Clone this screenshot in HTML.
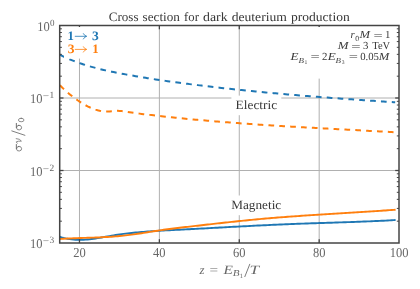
<!DOCTYPE html>
<html><head><meta charset="utf-8"><title>Cross section for dark deuterium production</title>
<style>html,body{margin:0;padding:0;background:#fff;}body{width:420px;height:289px;overflow:hidden;}svg{display:block;will-change:transform;}text{font-family:"Liberation Serif",serif;text-rendering:geometricPrecision;}</style></head><body>
<svg width="420" height="289" viewBox="0 0 420 289">
<rect x="0" y="0" width="420" height="289" fill="#ffffff"/>
<g stroke="#b0b0b0" stroke-width="1" fill="none">
<line x1="79.47" y1="25.5" x2="79.47" y2="243.0"/>
<line x1="159.38" y1="25.5" x2="159.38" y2="243.0"/>
<line x1="239.28" y1="25.5" x2="239.28" y2="243.0"/>
<line x1="319.18" y1="25.5" x2="319.18" y2="243.0"/>
<line x1="59.7" y1="98.00" x2="399.0" y2="98.00"/>
<line x1="59.7" y1="170.50" x2="399.0" y2="170.50"/>
</g>
<clipPath id="c"><rect x="59.7" y="25.5" width="339.3" height="217.5"/></clipPath>
<g clip-path="url(#c)" fill="none" stroke-width="2" stroke-linejoin="round">
<path d="M59.60,54.63 L61.60,55.62 L63.60,56.57 L65.60,57.49 L67.60,58.38 L69.60,59.24 L71.60,60.07 L73.60,60.86 L75.60,61.63 L77.60,62.37 L79.60,63.09 L81.60,63.77 L83.60,64.44 L85.60,65.08 L87.60,65.69 L89.60,66.29 L91.60,66.86 L93.60,67.41 L95.60,67.95 L97.60,68.47 L99.60,68.97 L101.60,69.45 L103.60,69.92 L105.60,70.38 L107.60,70.82 L109.60,71.25 L111.60,71.67 L113.60,72.08 L115.60,72.48 L117.60,72.87 L119.60,73.26 L121.60,73.64 L123.60,74.01 L125.60,74.38 L127.60,74.75 L129.60,75.11 L131.60,75.46 L133.60,75.81 L135.60,76.16 L137.60,76.50 L139.60,76.84 L141.60,77.17 L143.60,77.50 L145.60,77.83 L147.60,78.15 L149.60,78.46 L151.60,78.78 L153.60,79.09 L155.60,79.39 L157.60,79.69 L159.60,79.99 L161.60,80.29 L163.60,80.58 L165.60,80.87 L167.60,81.15 L169.60,81.44 L171.60,81.72 L173.60,81.99 L175.60,82.27 L177.60,82.54 L179.60,82.81 L181.60,83.07 L183.60,83.34 L185.60,83.60 L187.60,83.86 L189.60,84.12 L191.60,84.37 L193.60,84.62 L195.60,84.87 L197.60,85.12 L199.60,85.37 L201.60,85.61 L203.60,85.86 L205.60,86.10 L207.60,86.33 L209.60,86.57 L211.60,86.81 L213.60,87.04 L215.60,87.27 L217.60,87.50 L219.60,87.72 L221.60,87.95 L223.60,88.17 L225.60,88.39 L227.60,88.61 L229.60,88.83 L231.60,89.04 L233.60,89.26 L235.60,89.47 L237.60,89.68 L239.60,89.89 L241.60,90.10 L243.60,90.30 L245.60,90.50 L247.60,90.71 L249.60,90.91 L251.60,91.10 L253.60,91.30 L255.60,91.50 L257.60,91.69 L259.60,91.88 L261.60,92.07 L263.60,92.26 L265.60,92.45 L267.60,92.64 L269.60,92.82 L271.60,93.00 L273.60,93.19 L275.60,93.37 L277.60,93.54 L279.60,93.72 L281.60,93.90 L283.60,94.07 L285.60,94.25 L287.60,94.42 L289.60,94.59 L291.60,94.76 L293.60,94.93 L295.60,95.10 L297.60,95.26 L299.60,95.43 L301.60,95.59 L303.60,95.75 L305.60,95.92 L307.60,96.08 L309.60,96.24 L311.60,96.39 L313.60,96.55 L315.60,96.71 L317.60,96.86 L319.60,97.02 L321.60,97.17 L323.60,97.32 L325.60,97.47 L327.60,97.62 L329.60,97.77 L331.60,97.92 L333.60,98.07 L335.60,98.22 L337.60,98.36 L339.60,98.51 L341.60,98.65 L343.60,98.80 L345.60,98.94 L347.60,99.08 L349.60,99.22 L351.60,99.36 L353.60,99.50 L355.60,99.64 L357.60,99.78 L359.60,99.92 L361.60,100.05 L363.60,100.19 L365.60,100.33 L367.60,100.46 L369.60,100.60 L371.60,100.73 L373.60,100.87 L375.60,101.00 L377.60,101.13 L379.60,101.27 L381.60,101.40 L383.60,101.53 L385.60,101.66 L387.60,101.79 L389.60,101.92 L391.60,102.05 L393.60,102.18 L395.20,102.29" stroke="#1f77b4" stroke-dasharray="5.7,5.17" stroke-dashoffset="0.05"/>
<path d="M59.60,85.04 L61.60,86.98 L63.60,88.86 L65.60,90.69 L67.60,92.45 L69.60,94.15 L71.60,95.79 L73.60,97.36 L75.60,98.86 L77.60,100.29 L79.60,101.64 L81.60,102.93 L83.60,104.13 L85.60,105.26 L87.60,106.31 L89.60,107.27 L91.60,108.15 L93.60,108.95 L95.60,109.65 L97.60,110.27 L99.60,110.78 L101.60,111.17 L103.60,111.43 L105.60,111.55 L107.60,111.52 L109.60,111.38 L111.60,111.18 L113.60,110.98 L115.60,110.84 L117.60,110.81 L119.60,110.91 L121.60,111.11 L123.60,111.38 L125.60,111.68 L127.60,111.99 L129.60,112.29 L131.60,112.57 L133.60,112.85 L135.60,113.11 L137.60,113.38 L139.60,113.63 L141.60,113.89 L143.60,114.14 L145.60,114.38 L147.60,114.63 L149.60,114.87 L151.60,115.11 L153.60,115.34 L155.60,115.58 L157.60,115.80 L159.60,116.03 L161.60,116.25 L163.60,116.48 L165.60,116.69 L167.60,116.91 L169.60,117.12 L171.60,117.33 L173.60,117.54 L175.60,117.74 L177.60,117.95 L179.60,118.15 L181.60,118.34 L183.60,118.54 L185.60,118.73 L187.60,118.92 L189.60,119.11 L191.60,119.30 L193.60,119.48 L195.60,119.66 L197.60,119.84 L199.60,120.02 L201.60,120.20 L203.60,120.37 L205.60,120.54 L207.60,120.72 L209.60,120.88 L211.60,121.05 L213.60,121.22 L215.60,121.38 L217.60,121.54 L219.60,121.71 L221.60,121.87 L223.60,122.02 L225.60,122.18 L227.60,122.34 L229.60,122.49 L231.60,122.64 L233.60,122.79 L235.60,122.94 L237.60,123.09 L239.60,123.24 L241.60,123.39 L243.60,123.53 L245.60,123.68 L247.60,123.82 L249.60,123.96 L251.60,124.10 L253.60,124.24 L255.60,124.37 L257.60,124.51 L259.60,124.64 L261.60,124.78 L263.60,124.91 L265.60,125.04 L267.60,125.17 L269.60,125.30 L271.60,125.43 L273.60,125.55 L275.60,125.68 L277.60,125.80 L279.60,125.93 L281.60,126.05 L283.60,126.17 L285.60,126.29 L287.60,126.41 L289.60,126.53 L291.60,126.64 L293.60,126.76 L295.60,126.87 L297.60,126.99 L299.60,127.10 L301.60,127.21 L303.60,127.32 L305.60,127.43 L307.60,127.54 L309.60,127.65 L311.60,127.76 L313.60,127.87 L315.60,127.97 L317.60,128.08 L319.60,128.18 L321.60,128.29 L323.60,128.40 L325.60,128.50 L327.60,128.61 L329.60,128.71 L331.60,128.82 L333.60,128.92 L335.60,129.03 L337.60,129.13 L339.60,129.24 L341.60,129.34 L343.60,129.45 L345.60,129.56 L347.60,129.67 L349.60,129.77 L351.60,129.88 L353.60,129.99 L355.60,130.10 L357.60,130.22 L359.60,130.33 L361.60,130.44 L363.60,130.55 L365.60,130.67 L367.60,130.78 L369.60,130.89 L371.60,131.01 L373.60,131.12 L375.60,131.23 L377.60,131.34 L379.60,131.45 L381.60,131.55 L383.60,131.66 L385.60,131.76 L387.60,131.86 L389.60,131.96 L391.60,132.05 L393.60,132.14 L395.20,132.21" stroke="#ff7f0e" stroke-dasharray="5.7,5.17" stroke-dashoffset="10.46"/>
<path d="M59.60,236.77 L61.60,237.38 L63.60,237.92 L65.60,238.38 L67.60,238.77 L69.60,239.10 L71.60,239.36 L73.60,239.56 L75.60,239.70 L77.60,239.79 L79.60,239.82 L81.60,239.80 L83.60,239.73 L85.60,239.61 L87.60,239.45 L89.60,239.26 L91.60,239.02 L93.60,238.76 L95.60,238.47 L97.60,238.16 L99.60,237.83 L101.60,237.49 L103.60,237.13 L105.60,236.78 L107.60,236.42 L109.60,236.06 L111.60,235.72 L113.60,235.38 L115.60,235.06 L117.60,234.75 L119.60,234.46 L121.60,234.18 L123.60,233.91 L125.60,233.65 L127.60,233.41 L129.60,233.18 L131.60,232.95 L133.60,232.74 L135.60,232.54 L137.60,232.35 L139.60,232.17 L141.60,231.99 L143.60,231.83 L145.60,231.67 L147.60,231.52 L149.60,231.37 L151.60,231.23 L153.60,231.10 L155.60,230.97 L157.60,230.85 L159.60,230.73 L161.60,230.62 L163.60,230.51 L165.60,230.40 L167.60,230.29 L169.60,230.19 L171.60,230.09 L173.60,229.99 L175.60,229.89 L177.60,229.79 L179.60,229.69 L181.60,229.59 L183.60,229.49 L185.60,229.38 L187.60,229.28 L189.60,229.18 L191.60,229.07 L193.60,228.97 L195.60,228.86 L197.60,228.76 L199.60,228.65 L201.60,228.54 L203.60,228.44 L205.60,228.33 L207.60,228.22 L209.60,228.11 L211.60,228.00 L213.60,227.90 L215.60,227.79 L217.60,227.68 L219.60,227.57 L221.60,227.46 L223.60,227.35 L225.60,227.25 L227.60,227.14 L229.60,227.03 L231.60,226.92 L233.60,226.81 L235.60,226.71 L237.60,226.60 L239.60,226.50 L241.60,226.39 L243.60,226.28 L245.60,226.18 L247.60,226.08 L249.60,225.97 L251.60,225.87 L253.60,225.77 L255.60,225.67 L257.60,225.57 L259.60,225.47 L261.60,225.37 L263.60,225.27 L265.60,225.18 L267.60,225.08 L269.60,224.99 L271.60,224.89 L273.60,224.80 L275.60,224.71 L277.60,224.62 L279.60,224.53 L281.60,224.45 L283.60,224.36 L285.60,224.28 L287.60,224.20 L289.60,224.12 L291.60,224.04 L293.60,223.96 L295.60,223.88 L297.60,223.81 L299.60,223.73 L301.60,223.66 L303.60,223.59 L305.60,223.52 L307.60,223.45 L309.60,223.39 L311.60,223.32 L313.60,223.25 L315.60,223.19 L317.60,223.12 L319.60,223.06 L321.60,223.00 L323.60,222.93 L325.60,222.87 L327.60,222.80 L329.60,222.74 L331.60,222.68 L333.60,222.61 L335.60,222.55 L337.60,222.49 L339.60,222.42 L341.60,222.36 L343.60,222.29 L345.60,222.22 L347.60,222.16 L349.60,222.09 L351.60,222.02 L353.60,221.95 L355.60,221.88 L357.60,221.80 L359.60,221.73 L361.60,221.65 L363.60,221.57 L365.60,221.50 L367.60,221.42 L369.60,221.33 L371.60,221.25 L373.60,221.16 L375.60,221.07 L377.60,220.98 L379.60,220.89 L381.60,220.79 L383.60,220.69 L385.60,220.59 L387.60,220.49 L389.60,220.38 L391.60,220.28 L393.60,220.16 L395.60,220.05" stroke="#1f77b4" stroke-width="1.9"/>
<path d="M59.60,239.03 L61.60,238.89 L63.60,238.76 L65.60,238.65 L67.60,238.54 L69.60,238.44 L71.60,238.35 L73.60,238.27 L75.60,238.19 L77.60,238.11 L79.60,238.04 L81.60,237.97 L83.60,237.91 L85.60,237.85 L87.60,237.78 L89.60,237.72 L91.60,237.65 L93.60,237.58 L95.60,237.51 L97.60,237.43 L99.60,237.35 L101.60,237.27 L103.60,237.17 L105.60,237.07 L107.60,236.96 L109.60,236.84 L111.60,236.71 L113.60,236.57 L115.60,236.41 L117.60,236.24 L119.60,236.06 L121.60,235.86 L123.60,235.65 L125.60,235.42 L127.60,235.18 L129.60,234.93 L131.60,234.66 L133.60,234.38 L135.60,234.10 L137.60,233.80 L139.60,233.50 L141.60,233.19 L143.60,232.88 L145.60,232.57 L147.60,232.25 L149.60,231.93 L151.60,231.62 L153.60,231.30 L155.60,230.99 L157.60,230.69 L159.60,230.39 L161.60,230.09 L163.60,229.81 L165.60,229.53 L167.60,229.26 L169.60,229.00 L171.60,228.74 L173.60,228.49 L175.60,228.24 L177.60,227.99 L179.60,227.75 L181.60,227.51 L183.60,227.28 L185.60,227.05 L187.60,226.82 L189.60,226.59 L191.60,226.36 L193.60,226.14 L195.60,225.91 L197.60,225.69 L199.60,225.46 L201.60,225.23 L203.60,225.01 L205.60,224.78 L207.60,224.56 L209.60,224.33 L211.60,224.11 L213.60,223.88 L215.60,223.66 L217.60,223.43 L219.60,223.21 L221.60,222.99 L223.60,222.77 L225.60,222.55 L227.60,222.33 L229.60,222.12 L231.60,221.90 L233.60,221.69 L235.60,221.48 L237.60,221.27 L239.60,221.06 L241.60,220.85 L243.60,220.65 L245.60,220.45 L247.60,220.25 L249.60,220.05 L251.60,219.85 L253.60,219.66 L255.60,219.47 L257.60,219.28 L259.60,219.10 L261.60,218.92 L263.60,218.74 L265.60,218.56 L267.60,218.39 L269.60,218.22 L271.60,218.05 L273.60,217.89 L275.60,217.72 L277.60,217.56 L279.60,217.41 L281.60,217.25 L283.60,217.10 L285.60,216.94 L287.60,216.80 L289.60,216.65 L291.60,216.50 L293.60,216.36 L295.60,216.22 L297.60,216.08 L299.60,215.94 L301.60,215.80 L303.60,215.66 L305.60,215.53 L307.60,215.39 L309.60,215.26 L311.60,215.13 L313.60,215.00 L315.60,214.87 L317.60,214.75 L319.60,214.62 L321.60,214.49 L323.60,214.37 L325.60,214.24 L327.60,214.12 L329.60,213.99 L331.60,213.87 L333.60,213.75 L335.60,213.62 L337.60,213.50 L339.60,213.38 L341.60,213.26 L343.60,213.13 L345.60,213.01 L347.60,212.89 L349.60,212.77 L351.60,212.64 L353.60,212.52 L355.60,212.39 L357.60,212.27 L359.60,212.15 L361.60,212.02 L363.60,211.89 L365.60,211.77 L367.60,211.64 L369.60,211.51 L371.60,211.38 L373.60,211.25 L375.60,211.11 L377.60,210.98 L379.60,210.85 L381.60,210.71 L383.60,210.57 L385.60,210.43 L387.60,210.29 L389.60,210.15 L391.60,210.00 L393.60,209.86 L395.60,209.71" stroke="#ff7f0e" stroke-width="1.9"/>
</g>
<g stroke="#444444" fill="none">
<line x1="79.47" y1="243.0" x2="79.47" y2="239.2" stroke-width="1.3"/>
<line x1="79.47" y1="25.5" x2="79.47" y2="29.3" stroke-width="1.3"/>
<line x1="159.38" y1="243.0" x2="159.38" y2="239.2" stroke-width="1.3"/>
<line x1="159.38" y1="25.5" x2="159.38" y2="29.3" stroke-width="1.3"/>
<line x1="239.28" y1="243.0" x2="239.28" y2="239.2" stroke-width="1.3"/>
<line x1="239.28" y1="25.5" x2="239.28" y2="29.3" stroke-width="1.3"/>
<line x1="319.18" y1="243.0" x2="319.18" y2="239.2" stroke-width="1.3"/>
<line x1="319.18" y1="25.5" x2="319.18" y2="29.3" stroke-width="1.3"/>
<line x1="59.7" y1="98.00" x2="63.5" y2="98.00" stroke-width="1.3"/>
<line x1="399.0" y1="98.00" x2="395.2" y2="98.00" stroke-width="1.3"/>
<line x1="59.7" y1="170.50" x2="63.5" y2="170.50" stroke-width="1.3"/>
<line x1="399.0" y1="170.50" x2="395.2" y2="170.50" stroke-width="1.3"/>
<line x1="59.7" y1="76.18" x2="61.900000000000006" y2="76.18" stroke-width="1"/>
<line x1="399.0" y1="76.18" x2="396.8" y2="76.18" stroke-width="1"/>
<line x1="59.7" y1="63.41" x2="61.900000000000006" y2="63.41" stroke-width="1"/>
<line x1="399.0" y1="63.41" x2="396.8" y2="63.41" stroke-width="1"/>
<line x1="59.7" y1="54.35" x2="61.900000000000006" y2="54.35" stroke-width="1"/>
<line x1="399.0" y1="54.35" x2="396.8" y2="54.35" stroke-width="1"/>
<line x1="59.7" y1="47.32" x2="61.900000000000006" y2="47.32" stroke-width="1"/>
<line x1="399.0" y1="47.32" x2="396.8" y2="47.32" stroke-width="1"/>
<line x1="59.7" y1="41.58" x2="61.900000000000006" y2="41.58" stroke-width="1"/>
<line x1="399.0" y1="41.58" x2="396.8" y2="41.58" stroke-width="1"/>
<line x1="59.7" y1="36.73" x2="61.900000000000006" y2="36.73" stroke-width="1"/>
<line x1="399.0" y1="36.73" x2="396.8" y2="36.73" stroke-width="1"/>
<line x1="59.7" y1="32.53" x2="61.900000000000006" y2="32.53" stroke-width="1"/>
<line x1="399.0" y1="32.53" x2="396.8" y2="32.53" stroke-width="1"/>
<line x1="59.7" y1="28.82" x2="61.900000000000006" y2="28.82" stroke-width="1"/>
<line x1="399.0" y1="28.82" x2="396.8" y2="28.82" stroke-width="1"/>
<line x1="59.7" y1="148.68" x2="61.900000000000006" y2="148.68" stroke-width="1"/>
<line x1="399.0" y1="148.68" x2="396.8" y2="148.68" stroke-width="1"/>
<line x1="59.7" y1="135.91" x2="61.900000000000006" y2="135.91" stroke-width="1"/>
<line x1="399.0" y1="135.91" x2="396.8" y2="135.91" stroke-width="1"/>
<line x1="59.7" y1="126.85" x2="61.900000000000006" y2="126.85" stroke-width="1"/>
<line x1="399.0" y1="126.85" x2="396.8" y2="126.85" stroke-width="1"/>
<line x1="59.7" y1="119.82" x2="61.900000000000006" y2="119.82" stroke-width="1"/>
<line x1="399.0" y1="119.82" x2="396.8" y2="119.82" stroke-width="1"/>
<line x1="59.7" y1="114.08" x2="61.900000000000006" y2="114.08" stroke-width="1"/>
<line x1="399.0" y1="114.08" x2="396.8" y2="114.08" stroke-width="1"/>
<line x1="59.7" y1="109.23" x2="61.900000000000006" y2="109.23" stroke-width="1"/>
<line x1="399.0" y1="109.23" x2="396.8" y2="109.23" stroke-width="1"/>
<line x1="59.7" y1="105.03" x2="61.900000000000006" y2="105.03" stroke-width="1"/>
<line x1="399.0" y1="105.03" x2="396.8" y2="105.03" stroke-width="1"/>
<line x1="59.7" y1="101.32" x2="61.900000000000006" y2="101.32" stroke-width="1"/>
<line x1="399.0" y1="101.32" x2="396.8" y2="101.32" stroke-width="1"/>
<line x1="59.7" y1="221.18" x2="61.900000000000006" y2="221.18" stroke-width="1"/>
<line x1="399.0" y1="221.18" x2="396.8" y2="221.18" stroke-width="1"/>
<line x1="59.7" y1="208.41" x2="61.900000000000006" y2="208.41" stroke-width="1"/>
<line x1="399.0" y1="208.41" x2="396.8" y2="208.41" stroke-width="1"/>
<line x1="59.7" y1="199.35" x2="61.900000000000006" y2="199.35" stroke-width="1"/>
<line x1="399.0" y1="199.35" x2="396.8" y2="199.35" stroke-width="1"/>
<line x1="59.7" y1="192.32" x2="61.900000000000006" y2="192.32" stroke-width="1"/>
<line x1="399.0" y1="192.32" x2="396.8" y2="192.32" stroke-width="1"/>
<line x1="59.7" y1="186.58" x2="61.900000000000006" y2="186.58" stroke-width="1"/>
<line x1="399.0" y1="186.58" x2="396.8" y2="186.58" stroke-width="1"/>
<line x1="59.7" y1="181.73" x2="61.900000000000006" y2="181.73" stroke-width="1"/>
<line x1="399.0" y1="181.73" x2="396.8" y2="181.73" stroke-width="1"/>
<line x1="59.7" y1="177.53" x2="61.900000000000006" y2="177.53" stroke-width="1"/>
<line x1="399.0" y1="177.53" x2="396.8" y2="177.53" stroke-width="1"/>
<line x1="59.7" y1="173.82" x2="61.900000000000006" y2="173.82" stroke-width="1"/>
<line x1="399.0" y1="173.82" x2="396.8" y2="173.82" stroke-width="1"/>
</g>
<rect x="64" y="27" width="38" height="31.6" fill="#fff"/>
<rect x="288" y="27" width="105" height="51.6" fill="#fff"/>
<rect x="231.4" y="95.6" width="49.9" height="19.6" fill="#fff"/>
<rect x="228" y="195.5" width="57" height="19.7" fill="#fff"/>
<rect x="59.7" y="25.5" width="339.3" height="217.5" fill="none" stroke="#444444" stroke-width="1.5"/>
<text x="108.7" y="20.8" font-size="12.8" fill="#383838" textLength="29.8" lengthAdjust="spacingAndGlyphs">Cross</text>
<text x="142.6" y="20.8" font-size="12.8" fill="#383838" textLength="37.3" lengthAdjust="spacingAndGlyphs">section</text>
<text x="184.1" y="20.8" font-size="12.8" fill="#383838" textLength="14.8" lengthAdjust="spacingAndGlyphs">for</text>
<text x="203.1" y="20.8" font-size="12.8" fill="#383838" textLength="24.5" lengthAdjust="spacingAndGlyphs">dark</text>
<text x="231.7" y="20.8" font-size="12.8" fill="#383838" textLength="55.2" lengthAdjust="spacingAndGlyphs">deuterium</text>
<text x="291.0" y="20.8" font-size="12.8" fill="#383838" textLength="58.7" lengthAdjust="spacingAndGlyphs">production</text>
<text x="67.6" y="39.5" font-size="12.8" fill="#1f77b4" font-weight="bold">1</text>
<path d="M74.8,36.3 H86.6" stroke="#1f77b4" stroke-width="0.8" fill="none"/>
<path d="M83.19999999999999,33.3 Q84.39999999999999,35.699999999999996 86.6,36.3 Q84.39999999999999,36.9 83.19999999999999,39.3" stroke="#1f77b4" stroke-width="0.8" fill="none"/>
<text x="92.0" y="39.5" font-size="12.8" fill="#1f77b4" textLength="6.8" lengthAdjust="spacingAndGlyphs" font-weight="bold">3</text>
<text x="67.8" y="52.6" font-size="12.8" fill="#ff7f0e" textLength="6.8" lengthAdjust="spacingAndGlyphs" font-weight="bold">3</text>
<path d="M74.8,49.4 H86.6" stroke="#ff7f0e" stroke-width="0.8" fill="none"/>
<path d="M83.19999999999999,46.4 Q84.39999999999999,48.8 86.6,49.4 Q84.39999999999999,50.0 83.19999999999999,52.4" stroke="#ff7f0e" stroke-width="0.8" fill="none"/>
<text x="92.3" y="52.6" font-size="12.8" fill="#ff7f0e" font-weight="bold">1</text>
<text x="235.6" y="109.1" font-size="12.8" fill="#383838" textLength="41.5" lengthAdjust="spacingAndGlyphs">Electric</text>
<text x="231.2" y="208.6" font-size="12.8" fill="#383838" textLength="50.0" lengthAdjust="spacingAndGlyphs">Magnetic</text>
<text x="350.4" y="38.2" font-size="10.8" fill="#383838" font-style="italic">r</text>
<text x="355.3" y="40.5" font-size="7.8" fill="#383838">0</text>
<text x="359.6" y="38.2" font-size="10.8" fill="#3a3a3a" textLength="10.6" lengthAdjust="spacingAndGlyphs" font-style="italic">M</text>
<text x="373.4" y="38.900000000000006" font-size="10.8" fill="#383838" textLength="9.2" lengthAdjust="spacingAndGlyphs">=</text>
<text x="385.0" y="38.2" font-size="10.8" fill="#383838">1</text>
<text x="337.8" y="48.9" font-size="10.8" fill="#3a3a3a" textLength="10.8" lengthAdjust="spacingAndGlyphs" font-style="italic">M</text>
<text x="351.3" y="49.6" font-size="10.8" fill="#383838" textLength="9.3" lengthAdjust="spacingAndGlyphs">=</text>
<text x="363.1" y="48.9" font-size="10.8" fill="#383838">3</text>
<text x="372.2" y="48.9" font-size="10.8" fill="#383838" textLength="18.0" lengthAdjust="spacingAndGlyphs">TeV</text>
<text x="290.4" y="59.7" font-size="10.8" fill="#383838" textLength="8" lengthAdjust="spacingAndGlyphs" font-style="italic">E</text>
<text x="298.4" y="62.7" font-size="7.8" fill="#3a3a3a" textLength="5.5" lengthAdjust="spacingAndGlyphs" font-style="italic">B</text>
<text x="304.4" y="64.0" font-size="5.6" fill="#383838">1</text>
<text x="310.6" y="60.400000000000006" font-size="10.8" fill="#383838" textLength="9.2" lengthAdjust="spacingAndGlyphs">=</text>
<text x="322.0" y="59.7" font-size="10.8" fill="#383838">2</text>
<text x="327.8" y="59.7" font-size="10.8" fill="#383838" textLength="8" lengthAdjust="spacingAndGlyphs" font-style="italic">E</text>
<text x="335.6" y="62.7" font-size="7.8" fill="#3a3a3a" textLength="5.5" lengthAdjust="spacingAndGlyphs" font-style="italic">B</text>
<text x="341.8" y="64.0" font-size="5.6" fill="#383838">3</text>
<text x="348.8" y="60.400000000000006" font-size="10.8" fill="#383838" textLength="9.2" lengthAdjust="spacingAndGlyphs">=</text>
<text x="360.2" y="59.7" font-size="10.8" fill="#383838" textLength="18.8" lengthAdjust="spacingAndGlyphs">0.05</text>
<text x="378.8" y="59.7" font-size="10.8" fill="#3a3a3a" textLength="10.6" lengthAdjust="spacingAndGlyphs" font-style="italic">M</text>
<text x="73.22" y="257.2" font-size="13.6" fill="#666666" textLength="12.5" lengthAdjust="spacingAndGlyphs">20</text>
<text x="153.12" y="257.2" font-size="13.6" fill="#666666" textLength="12.5" lengthAdjust="spacingAndGlyphs">40</text>
<text x="233.03" y="257.2" font-size="13.6" fill="#666666" textLength="12.5" lengthAdjust="spacingAndGlyphs">60</text>
<text x="312.93" y="257.2" font-size="13.6" fill="#666666" textLength="12.5" lengthAdjust="spacingAndGlyphs">80</text>
<text x="389.68" y="257.2" font-size="13.6" fill="#666666" textLength="18.8" lengthAdjust="spacingAndGlyphs">100</text>
<text x="37.3" y="30.95" font-size="13.4" fill="#666666" textLength="12.5" lengthAdjust="spacingAndGlyphs">10</text>
<text x="50.1" y="26.25" font-size="9.6" fill="#666666" textLength="4.5" lengthAdjust="spacingAndGlyphs">0</text>
<text x="29.9" y="103.45" font-size="13.4" fill="#666666" textLength="12.5" lengthAdjust="spacingAndGlyphs">10</text>
<text x="42.8" y="99.15" font-size="9.6" fill="#666666" textLength="6.4" lengthAdjust="spacingAndGlyphs">−</text>
<text x="49.6" y="98.45" font-size="9.6" fill="#666666" textLength="4.7" lengthAdjust="spacingAndGlyphs">1</text>
<text x="29.9" y="175.95" font-size="13.4" fill="#666666" textLength="12.5" lengthAdjust="spacingAndGlyphs">10</text>
<text x="42.8" y="171.65" font-size="9.6" fill="#666666" textLength="6.4" lengthAdjust="spacingAndGlyphs">−</text>
<text x="49.6" y="170.95" font-size="9.6" fill="#666666" textLength="4.7" lengthAdjust="spacingAndGlyphs">2</text>
<text x="29.9" y="248.45" font-size="13.4" fill="#666666" textLength="12.5" lengthAdjust="spacingAndGlyphs">10</text>
<text x="42.8" y="244.15" font-size="9.6" fill="#666666" textLength="6.4" lengthAdjust="spacingAndGlyphs">−</text>
<text x="49.6" y="243.45" font-size="9.6" fill="#666666" textLength="4.7" lengthAdjust="spacingAndGlyphs">3</text>
<text x="199.4" y="273.6" font-size="12.8" fill="#666666" font-style="italic">z</text>
<text x="209.6" y="274.20000000000005" font-size="12.8" fill="#666666" textLength="8.6" lengthAdjust="spacingAndGlyphs">=</text>
<text x="223.6" y="273.6" font-size="12.8" fill="#666666" textLength="9.4" lengthAdjust="spacingAndGlyphs" font-style="italic">E</text>
<text x="232.8" y="276.1" font-size="9.0" fill="#666666" textLength="6.8" lengthAdjust="spacingAndGlyphs" font-style="italic">B</text>
<text x="239.8" y="277.5" font-size="6.6" fill="#666666">1</text>
<path d="M244.7,277.0 L249.9,263.9" stroke="#666666" stroke-width="0.85" fill="none"/>
<text x="249.4" y="273.6" font-size="12.8" fill="#666666" textLength="9.6" lengthAdjust="spacingAndGlyphs" font-style="italic">T</text>
<g transform="translate(21.6,151.3) rotate(-90)" fill="none" stroke="#686868" stroke-width="0.75" stroke-linecap="round">
<ellipse cx="2.6" cy="-2.55" rx="2.3" ry="2.55" transform="rotate(-8 2.6 -2.55)"/>
<path d="M2.6,-5.25 H6.8" stroke-width="0.95"/>
<path d="M8.1,-4.3 q0.5,-1.3 1.4,-1.0 q0.8,1.6 0.7,5.1 q2.4,-1.4 2.5,-5.2"/>
<path d="M16.0,3.3 L20.4,-9.8" stroke-width="0.85"/>
<ellipse cx="23.700000000000003" cy="-2.55" rx="2.3" ry="2.55" transform="rotate(-8 23.700000000000003 -2.55)"/>
<path d="M23.700000000000003,-5.25 H27.900000000000002" stroke-width="0.95"/>
<ellipse cx="31.3" cy="-0.4" rx="1.75" ry="2.8" stroke-width="0.75"/>
</g>
</svg></body></html>
